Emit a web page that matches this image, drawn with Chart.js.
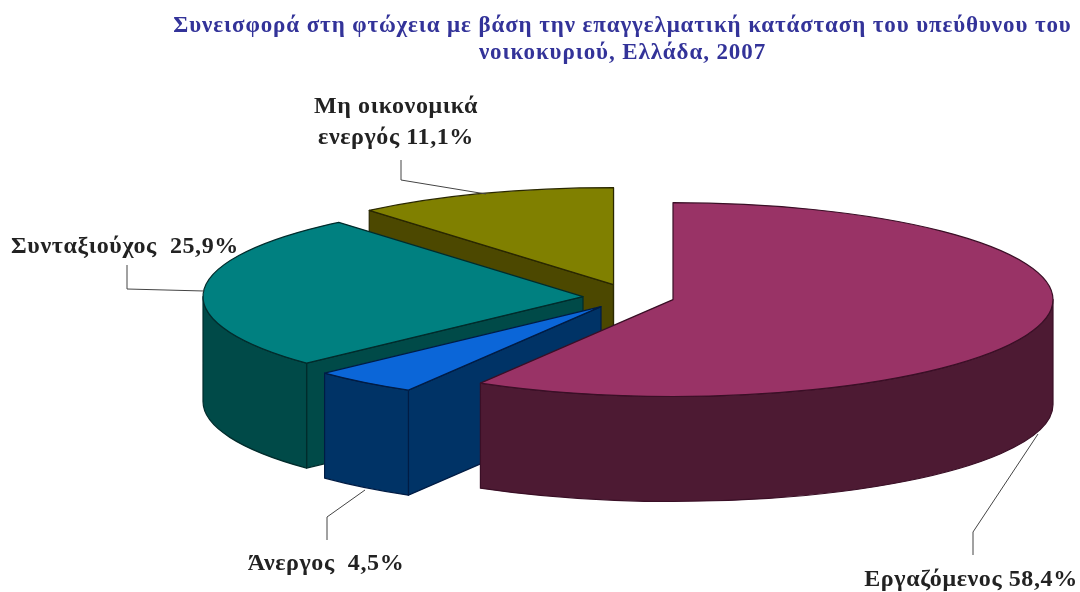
<!DOCTYPE html>
<html>
<head>
<meta charset="utf-8">
<script src="https://cdn.jsdelivr.net/npm/chart.js@4"></script>
<style>
body{margin:0;background:#fff}
canvas{display:block}
</style>
</head>
<body>
<canvas id="pie" width="1080" height="592"></canvas>
<script>
// values
categories = ['Εργαζόμενος', 'Άνεργος', 'Συνταξιούχος', 'Μη οικονομικά ενεργός']
shares     = [58.4, 4.5, 25.9, 11.1]
titleLines = ['Συνεισφορά στη φτώχεια με βάση την επαγγελματική κατάσταση του υπεύθυνου του',
              'νοικοκυριού, Ελλάδα, 2007']

// look of the 3d pie
topColors  = ['#993366', '#0b66d8', '#008080', '#808000']
wallColors = ['#4d1a33', '#003366', '#004a48', '#4c4800']
lineColors = ['#3a0f26', '#001c44', '#002c2c', '#2a2800']
explodeX   = [50.5, -21.5, -39.5, -9]
explodeY   = [4, 11, 1, -11]
tilt  = 0.255
depth = 105

// callouts: text lines, where they sit, leader line
callouts = [
    {lines: [categories[0] + ' ' + pct(shares[0])], x: 971, y: 586, leader: [[973, 555], [973, 532], [1038, 434]]},
    {lines: [categories[1] + '  ' + pct(shares[1])], x: 326, y: 570, leader: [[327, 540], [327, 517], [365, 490]]},
    {lines: [categories[2] + '  ' + pct(shares[2])], x: 125, y: 253, leader: [[127, 265], [127, 289], [204, 291]]},
    {lines: ['Μη οικονομικά', 'ενεργός ' + pct(shares[3])], x: 396, y: 113, leader: [[401, 160], [401, 180], [486, 194]]}
]

function pct(v){
    return v.toString().replace('.', ',') + '%'
}

function flatSide(ctx, cx, cy, rx, ry, a){
    ex = cx + rx * Math.cos(a)
    ey = cy + ry * Math.sin(a)
    ctx.beginPath()
    ctx.moveTo(cx, cy)
    ctx.lineTo(ex, ey)
    ctx.lineTo(ex, ey + depth)
    ctx.lineTo(cx, cy + depth)
    ctx.closePath()
    ctx.fill()
    ctx.stroke()
}

function slice3d(ctx, arc, i){
    cx = arc.x + explodeX[i]
    cy = arc.y + explodeY[i]
    rx = arc.outerRadius
    ry = rx * tilt
    ctx.fillStyle   = wallColors[i]
    ctx.strokeStyle = lineColors[i]
    ctx.lineWidth   = 1.2
    ctx.lineJoin    = 'round'

    // straight sides, only the ones turned towards the viewer
    if(Math.cos(arc.startAngle) < 0) flatSide(ctx, cx, cy, rx, ry, arc.startAngle)
    if(Math.cos(arc.endAngle) > 0) flatSide(ctx, cx, cy, rx, ry, arc.endAngle)

    // curved side, only the part facing front
    a0 = Math.max(arc.startAngle, 0)
    a1 = Math.min(arc.endAngle, Math.PI)
    if(a1 > a0){
        ctx.beginPath()
        ctx.ellipse(cx, cy, rx, ry, 0, a0, a1)
        ctx.ellipse(cx, cy + depth, rx, ry, 0, a1, a0, true)
        ctx.closePath()
        ctx.fill()
        ctx.stroke()
    }

    // top face is the library's own arc, squashed
    ctx.save()
    ctx.translate(explodeX[i], arc.y + explodeY[i])
    ctx.scale(1, tilt)
    ctx.translate(0, -arc.y)
    arc.draw(ctx)
    ctx.restore()

    ctx.beginPath()
    ctx.moveTo(cx, cy)
    ctx.ellipse(cx, cy, rx, ry, 0, arc.startAngle, arc.endAngle)
    ctx.closePath()
    ctx.stroke()
}

pie3d = {
    id: 'pie3d',
    beforeDraw: function(chart){
        chart.ctx.letterSpacing = '0.9px'
    },
    beforeDatasetsDraw: function(chart){
        chart.ctx.letterSpacing = '0px'
    },
    beforeDatasetDraw: function(chart, args){
        arcs = args.meta.data
        // back slices first
        for(i = arcs.length - 1; i >= 0; i--){
            slice3d(chart.ctx, arcs[i], i)
        }
        return false
    },
    afterDatasetsDraw: function(chart){
        ctx = chart.ctx
        ctx.save()
        ctx.strokeStyle = '#444'
        ctx.lineWidth = 1
        ctx.fillStyle = '#222'
        ctx.font = 'bold 24px "Liberation Serif"'
        ctx.letterSpacing = '0.6px'
        ctx.textAlign = 'center'
        callouts.forEach(function(c){
            ctx.beginPath()
            c.leader.forEach(function(p, n){
                if(n == 0) ctx.moveTo(p[0], p[1])
                else ctx.lineTo(p[0], p[1])
            })
            ctx.stroke()
            c.lines.forEach(function(t, n){
                ctx.fillText(t, c.x, c.y + n * 31)
            })
        })
        ctx.restore()
    }
}

new Chart(document.getElementById('pie').getContext('2d'), {
    type: 'pie',
    plugins: [pie3d],
    data: {
        labels: categories,
        datasets: [{
            data: shares,
            backgroundColor: topColors,
            borderWidth: 0
        }]
    },
    options: {
        responsive: false,
        animation: false,
        events: [],
        radius: 380,
        layout: {padding: {left: 165, bottom: 74}},
        plugins: {
            legend: {display: false},
            tooltip: {enabled: false},
            title: {
                display: true,
                text: titleLines,
                color: '#333399',
                font: {family: '"Liberation Serif"', size: 23, weight: 'bold', lineHeight: 1.2},
                padding: {top: 12, bottom: 6}
            }
        }
    }
})
</script>
</body>
</html>
